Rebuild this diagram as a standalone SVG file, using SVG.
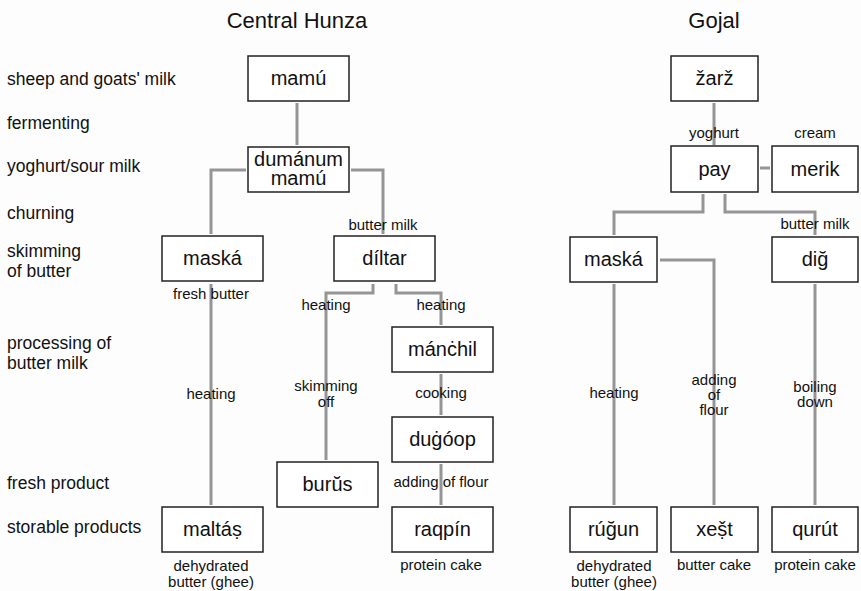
<svg xmlns="http://www.w3.org/2000/svg" width="861" height="591" viewBox="0 0 861 591">
<style>
text{font-family:"Liberation Sans",Arial,sans-serif;fill:#111}
.title{font-size:22px;text-anchor:middle}
.row{font-size:17.5px}
.node rect{fill:#fff;stroke:#222;stroke-width:1.5}
.node text{font-size:20px;text-anchor:middle}
.lbl{font-size:15px;text-anchor:middle}
.conn{fill:none;stroke:#959595;stroke-width:3}
</style>
<rect width="861" height="591" fill="#fdfdfd"/>
<text class="title" x="297" y="28">Central Hunza</text>
<text class="title" x="714" y="28">Gojal</text>
<g id="rows">
<text class="row" x="7" y="85">sheep and goats' milk</text>
<text class="row" x="7" y="129">fermenting</text>
<text class="row" x="7" y="172">yoghurt/sour milk</text>
<text class="row" x="7" y="219">churning</text>
<text class="row" x="7" y="257">skimming</text>
<text class="row" x="7" y="277">of butter</text>
<text class="row" x="7" y="349">processing of</text>
<text class="row" x="7" y="369">butter milk</text>
<text class="row" x="7" y="489">fresh product</text>
<text class="row" x="7" y="533">storable products</text>
</g>
<g id="connectors">
<path class="conn" d="M297 103V145"/>
<path class="conn" d="M246 170H211V234"/>
<path class="conn" d="M351 170H383V234"/>
<path class="conn" d="M211 284V505"/>
<path class="conn" d="M373 284V293H326V460"/>
<path class="conn" d="M396 284V293H441V325"/>
<path class="conn" d="M441 374V415"/>
<path class="conn" d="M441 464V505"/>
<path class="conn" d="M714 103V145"/>
<path class="conn" d="M760 168H770"/>
<path class="conn" d="M703 194V212H614V235"/>
<path class="conn" d="M725 194V212H815V235"/>
<path class="conn" d="M614 284V505"/>
<path class="conn" d="M660 260H714V505"/>
<path class="conn" d="M815 284V505"/>
</g>
<g id="labels">
<text class="lbl" x="383" y="230">butter milk</text>
<text class="lbl" x="211" y="299">fresh butter</text>
<text class="lbl" x="326" y="310">heating</text>
<text class="lbl" x="441" y="310">heating</text>
<text class="lbl" x="211" y="399">heating</text>
<text class="lbl" x="326" y="391">skimming</text>
<text class="lbl" x="326" y="407">off</text>
<text class="lbl" x="441" y="398">cooking</text>
<text class="lbl" x="441" y="487">adding of flour</text>
<text class="lbl" x="441" y="570">protein cake</text>
<text class="lbl" x="211" y="571">dehydrated</text>
<text class="lbl" x="211" y="587">butter (ghee)</text>
<text class="lbl" x="714" y="138">yoghurt</text>
<text class="lbl" x="815" y="138">cream</text>
<text class="lbl" x="815" y="229">butter milk</text>
<text class="lbl" x="614" y="398">heating</text>
<text class="lbl" x="714" y="385">adding</text>
<text class="lbl" x="714" y="400">of</text>
<text class="lbl" x="714" y="415">flour</text>
<text class="lbl" x="815" y="392">boiling</text>
<text class="lbl" x="815" y="407">down</text>
<text class="lbl" x="614" y="571">dehydrated</text>
<text class="lbl" x="614" y="587">butter (ghee)</text>
<text class="lbl" x="714" y="570">butter cake</text>
<text class="lbl" x="815" y="570">protein cake</text>
</g>
<g id="n-mamu" class="node"><rect x="248" y="56" width="101" height="45"/><text x="298.5" y="85">mamú</text></g>
<g id="n-dumanum" class="node"><rect x="248" y="147" width="101" height="45"/><text x="298.5" y="166">dumánum</text><text x="298.5" y="185">mamú</text></g>
<g id="n-maska-ch" class="node"><rect x="162" y="236" width="101" height="45"/><text x="212.5" y="265">maská</text></g>
<g id="n-diltar" class="node"><rect x="334" y="236" width="101" height="45"/><text x="384.5" y="265">díltar</text></g>
<g id="n-manchil" class="node"><rect x="392" y="327" width="101" height="45"/><text x="442.5" y="356">mánċhil</text></g>
<g id="n-dugoop" class="node"><rect x="392" y="417" width="101" height="45"/><text x="442.5" y="446">duġóop</text></g>
<g id="n-burus" class="node"><rect x="277" y="462" width="101" height="45"/><text x="327.5" y="491">burŭs</text></g>
<g id="n-maltas" class="node"><rect x="162" y="507" width="101" height="45"/><text x="212.5" y="536">maltáṣ</text></g>
<g id="n-raqpin" class="node"><rect x="392" y="507" width="101" height="45"/><text x="442.5" y="536">raqpín</text></g>
<g id="n-zarz" class="node"><rect x="671" y="56" width="87" height="45"/><text x="714.5" y="85">žarž</text></g>
<g id="n-pay" class="node"><rect x="671" y="146" width="87" height="46"/><text x="714.5" y="176">pay</text></g>
<g id="n-merik" class="node"><rect x="772" y="146" width="86" height="46"/><text x="815" y="176">merik</text></g>
<g id="n-maska-g" class="node"><rect x="570" y="237" width="87" height="45"/><text x="613.5" y="266">maská</text></g>
<g id="n-dig" class="node"><rect x="772" y="237" width="86" height="45"/><text x="815" y="266">diğ</text></g>
<g id="n-rugun" class="node"><rect x="570" y="507" width="87" height="45"/><text x="613.5" y="536">rúğun</text></g>
<g id="n-xest" class="node"><rect x="671" y="507" width="87" height="45"/><text x="714.5" y="536">xeṣ̌t</text></g>
<g id="n-qurut" class="node"><rect x="772" y="507" width="86" height="45"/><text x="815" y="536">qurút</text></g>
</svg>
